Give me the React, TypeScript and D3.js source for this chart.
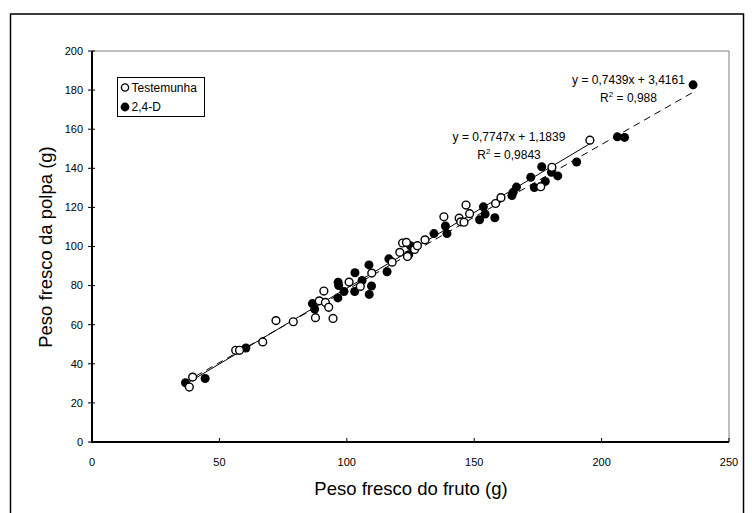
import React from "react";
import * as d3 from "d3";

const xTicks = [0, 50, 100, 150, 200, 250];
const yTicks = [0, 20, 40, 60, 80, 100, 120, 140, 160, 180, 200];

const testX = [38.2, 39.5, 56.4, 57.9, 67.0, 72.2, 79.0, 87.7, 89.2, 91.0, 91.6, 92.9, 94.6, 100.9, 105.3, 109.8, 117.8, 120.8, 121.9, 123.4, 123.8, 126.6, 127.7, 130.7, 138.1, 144.1, 144.7, 146.0, 146.8, 148.2, 158.4, 160.5, 176.1, 180.5, 195.4];
const testY = [28.1, 33.2, 46.9, 46.9, 51.2, 62.1, 61.5, 63.6, 72.2, 77.2, 71.4, 68.9, 63.2, 81.8, 79.6, 86.4, 92.0, 97.0, 101.8, 102.1, 94.9, 98.5, 100.4, 103.4, 115.2, 114.5, 112.6, 112.4, 121.2, 116.8, 122.0, 125.0, 130.6, 140.5, 154.4];

const dX = [36.7, 44.4, 60.4, 86.5, 87.4, 96.5, 96.6, 96.8, 98.9, 103.1, 103.2, 106.0, 108.7, 108.8, 109.7, 115.8, 116.5, 124.3, 125.0, 134.2, 138.7, 139.3, 152.1, 153.6, 154.3, 158.1, 164.8, 165.3, 166.6, 172.2, 173.6, 176.5, 177.9, 180.3, 182.8, 190.2, 206.2, 209.0, 235.9];
const dY = [30.3, 32.5, 48.1, 70.8, 68.0, 73.7, 81.7, 80.0, 77.0, 77.0, 86.6, 82.6, 90.6, 75.5, 79.8, 87.1, 93.7, 95.8, 100.4, 106.6, 110.5, 106.6, 113.7, 120.3, 116.6, 114.7, 126.1, 127.8, 130.4, 135.4, 130.2, 140.8, 133.3, 138.0, 136.1, 143.2, 156.1, 155.8, 182.7];

const seriesNames = ["Testemunha", "2,4-D"];
const fits = [
  { a: 0.7747, b: 1.1839, eq: "y = 0,7747x + 1,1839", r2: "0,9843" },
  { a: 0.7439, b: 3.4161, eq: "y = 0,7439x + 3,4161", r2: "0,988" },
];

const FONT = "'Liberation Sans', Arial, sans-serif";

export default function App() {
  const x = d3.scaleLinear().domain([0, 250]).range([92, 729]);
  const y = d3.scaleLinear().domain([0, 200]).range([442, 51]);
  const line = d3.line<[number, number]>().x((d) => x(d[0])).y((d) => y(d[1]));

  const tPts = testX.map((v, i) => [v, testY[i]] as [number, number]);
  const dPts = dX.map((v, i) => [v, dY[i]] as [number, number]);

  const tMin = d3.min(testX)!, tMax = d3.max(testX)!;
  const dMin = d3.min(dX)!, dMax = d3.max(dX)!;
  const tLine: [number, number][] = [[tMin, fits[0].a * tMin + fits[0].b], [tMax, fits[0].a * tMax + fits[0].b]];
  const dLine: [number, number][] = [[dMin, fits[1].a * dMin + fits[1].b], [dMax, fits[1].a * dMax + fits[1].b]];

  const r = 3.9;

  return (
    <svg width={752} height={513} style={{ position: "absolute", left: 0, top: 0, background: "#fff" }} fontFamily={FONT}>
      <rect x={0} y={0} width={752} height={513} fill="#fff" />
      <rect x={10.5} y={14} width={733} height={520} fill="none" stroke="#000" strokeWidth={1.5} />
      {/* plot frame top/right */}
      <line x1={x(0)} x2={x(250)} y1={y(200)} y2={y(200)} stroke="#808080" strokeWidth={1} />
      <line x1={x(250)} x2={x(250)} y1={y(200)} y2={y(0)} stroke="#808080" strokeWidth={1} />

      {/* regression lines */}
      <path d={line(tLine)!} stroke="#000" strokeWidth={1} fill="none" />
      <path d={line(dLine)!} stroke="#000" strokeWidth={1} fill="none" strokeDasharray="7,5" />

      {/* points */}
      {dPts.map((p, i) => (
        <circle key={"d" + i} cx={x(p[0])} cy={y(p[1])} r={r + 0.6} fill="#000" />
      ))}
      {tPts.map((p, i) => (
        <circle key={"t" + i} cx={x(p[0])} cy={y(p[1])} r={r} fill="#fff" stroke="#000" strokeWidth={1.4} />
      ))}

      {/* axes */}
      <line x1={x(0)} x2={x(0)} y1={y(200)} y2={y(0) + 1} stroke="#000" strokeWidth={2} />
      <line x1={x(0) - 1} x2={x(250)} y1={y(0)} y2={y(0)} stroke="#000" strokeWidth={2} />
      {yTicks.map((t) => (
        <g key={"yt" + t}>
          <line x1={x(0) - 4} x2={x(0) + 3} y1={y(t)} y2={y(t)} stroke="#000" strokeWidth={1} />
          <text x={x(0) - 9} y={y(t)} dy="0.35em" textAnchor="end" fontSize={11}>{t}</text>
        </g>
      ))}
      {xTicks.map((t) => (
        <g key={"xt" + t}>
          <line x1={x(t)} x2={x(t)} y1={y(0)} y2={y(0) - 4} stroke="#000" strokeWidth={1} />
          <text x={x(t)} y={y(0) + 24} textAnchor="middle" fontSize={11}>{t}</text>
        </g>
      ))}

      {/* axis titles */}
      <text x={411} y={495} textAnchor="middle" fontSize={18.5}>Peso fresco do fruto (g)</text>
      <text transform="translate(52,247) rotate(-90)" textAnchor="middle" fontSize={18.5}>Peso fresco da polpa (g)</text>

      {/* equations */}
      <text x={509} y={141} textAnchor="middle" fontSize={12}>{fits[0].eq}</text>
      <text x={509} y={159} textAnchor="middle" fontSize={12}>
        R<tspan fontSize={8} dy={-5}>2</tspan><tspan dy={5}> = {fits[0].r2}</tspan>
      </text>
      <text x={628.5} y={84} textAnchor="middle" fontSize={12}>{fits[1].eq}</text>
      <text x={628.5} y={102} textAnchor="middle" fontSize={12}>
        R<tspan fontSize={8} dy={-5}>2</tspan><tspan dy={5}> = {fits[1].r2}</tspan>
      </text>

      {/* legend */}
      <rect x={117.5} y={77.5} width={87} height={39} fill="#fff" stroke="#000" strokeWidth={1} />
      <circle cx={125} cy={87.5} r={3.6} fill="#fff" stroke="#000" strokeWidth={1.4} />
      <text x={131.5} y={91.5} fontSize={12}>{seriesNames[0]}</text>
      <circle cx={125} cy={107} r={4.4} fill="#000" />
      <text x={131.5} y={111} fontSize={12}>{seriesNames[1]}</text>
    </svg>
  );
}
